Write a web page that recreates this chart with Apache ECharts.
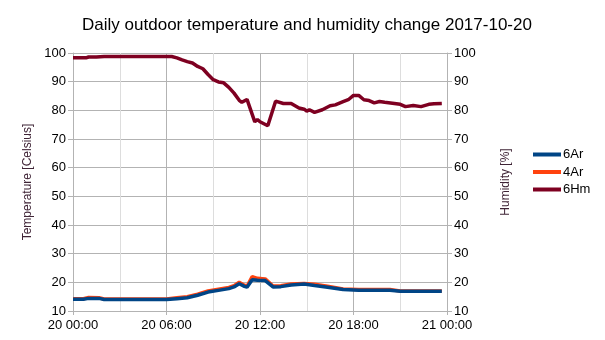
<!DOCTYPE html>
<html>
<head>
<meta charset="utf-8">
<script src="https://cdn.jsdelivr.net/npm/echarts@6/dist/echarts.min.js"></script>
<style>
  html, body { margin: 0; padding: 0; background: #fff; }
  #chart { width: 605px; height: 340px; }
</style>
</head>
<body>
<div id="chart"></div>
<script>
// Readings of 2017-10-20, times as HH:MM (24:00 = next midnight)
const hmTimes = ['00:00','00:30','00:50','01:00','01:30','02:00','03:00','04:00','05:00','06:00','06:20',
  '06:40','07:00','07:20','07:40','08:00','08:20','08:40','09:00','09:20','09:40','10:00','10:20','10:40',
  '10:50','11:10','11:40','11:50','12:00','12:30','13:00','13:30','14:00','14:30','14:50','15:00','15:10',
  '15:30','16:00','16:30','16:50','17:20','17:40','18:00','18:20','18:40','19:00','19:20','19:40','20:00',
  '20:30','21:00','21:20','21:50','22:20','22:50','23:10','23:40'];
const hm6 = [98.3,98.3,98.3,98.6,98.6,98.8,98.8,98.8,98.8,98.8,98.8,
  98.3,97.6,97.0,96.5,95.3,94.5,92.5,90.7,89.9,89.6,88.0,86.0,83.5,
  82.8,83.8,76.0,76.8,76.0,74.6,83.2,82.4,82.4,80.8,80.4,79.7,80.2,
  79.3,80.2,81.6,81.9,83.0,83.7,85.2,85.2,83.7,83.4,82.6,83.1,82.8,
  82.5,82.1,81.3,81.7,81.3,82.1,82.3,82.4];

const tTimes = ['00:00','00:40','01:00','01:40','02:00','03:00','04:00','05:00','06:00','06:40','07:20',
  '08:00','08:40','09:20','10:00','10:20','10:40','11:00','11:10','11:30','11:50','12:20','12:50','13:20',
  '14:00','14:50','15:30','16:20','17:20','18:20','19:20','20:20','21:00','22:00','23:00','23:40'];
const ar6 = [14.1,14.1,14.4,14.4,14.0,14.0,14.0,14.0,14.0,14.3,14.6,
  15.5,16.6,17.2,17.8,18.4,19.5,18.6,18.3,20.9,20.7,20.6,18.4,18.5,
  19.1,19.4,18.9,18.3,17.5,17.2,17.2,17.2,16.9,16.9,16.9,16.9];
const ar4 = [14.3,14.3,14.7,14.6,14.2,14.2,14.2,14.2,14.2,14.6,15.0,
  15.9,17.0,17.6,18.2,18.8,20.0,19.0,18.6,22.0,21.4,21.2,18.7,18.8,
  19.4,19.6,19.3,18.6,17.7,17.5,17.5,17.5,17.0,17.0,17.0,17.0];

const xTickLabels = ['20 00:00','20 06:00','20 12:00','20 18:00','21 00:00'];

function toHours(t) {
  const [h, m] = t.split(':').map(Number);
  return h + m / 60;
}
function pairs(times, vals) {
  return times.map((t, i) => [toHours(t), vals[i]]);
}

const font = 'Liberation Sans, Arial, sans-serif';
const chart = echarts.init(document.getElementById('chart'), null, { renderer: 'canvas' });

const yAxisCommon = {
  type: 'value', min: 10, max: 100, interval: 10,
  axisLine: { show: true, lineStyle: { color: '#b3b3b3', width: 1 } },
  axisTick: { show: true, length: 5, lineStyle: { color: '#b3b3b3' } },
  axisLabel: { color: '#000', fontSize: 13, fontFamily: font, margin: 7 },
  nameLocation: 'middle',
  nameTextStyle: { color: '#3f2436', fontSize: 12, fontFamily: font }
};

chart.setOption({
  animation: false,
  backgroundColor: '#fff',
  title: {
    text: 'Daily outdoor temperature and humidity change 2017-10-20',
    left: 302, top: 12, textAlign: 'center',
    textStyle: { color: '#000', fontSize: 17, fontWeight: 'normal', fontFamily: font }
  },
  grid: { left: 73, right: 158, top: 53, bottom: 29 },
  legend: {
    orient: 'vertical', left: 528, top: 143,
    itemWidth: 28, itemHeight: 4, itemGap: 4.5, icon: 'rect',
    textStyle: { color: '#000', fontSize: 13, fontFamily: font, padding: [0, 0, 0, -3] },
    data: ['6Ar', '4Ar', '6Hm']
  },
  xAxis: {
    type: 'value', min: 0, max: 24, interval: 6,
    axisLine: { show: true, onZero: false, lineStyle: { color: '#b3b3b3' } },
    axisTick: { show: true, length: 4, lineStyle: { color: '#b3b3b3' } },
    axisLabel: {
      color: '#000', fontSize: 13, fontFamily: font, margin: 8,
      formatter: v => xTickLabels[Math.round(v / 6)]
    },
    splitLine: { show: true, lineStyle: { color: '#b3b3b3', width: 1 } },
    minorTick: { show: false, splitNumber: 2 },
    minorSplitLine: { show: true, lineStyle: { color: '#dddddd', width: 1 } }
  },
  yAxis: [
    Object.assign({}, yAxisCommon, {
      position: 'left', name: 'Temperature [Celsius]', nameGap: 38,
      splitLine: { show: true, lineStyle: { color: '#b3b3b3', width: 1 } }
    }),
    Object.assign({}, yAxisCommon, {
      position: 'right', name: 'Humidity [%]', nameGap: 53,
      splitLine: { show: false }
    })
  ],
  series: [
    {
      name: '6Ar', type: 'line', yAxisIndex: 0, z: 4,
      data: pairs(tTimes, ar6), showSymbol: false,
      lineStyle: { width: 3.5, color: '#004586' }, itemStyle: { color: '#004586' }
    },
    {
      name: '4Ar', type: 'line', yAxisIndex: 0, z: 3,
      data: pairs(tTimes, ar4), showSymbol: false,
      lineStyle: { width: 3.5, color: '#ff420e' }, itemStyle: { color: '#ff420e' }
    },
    {
      name: '6Hm', type: 'line', yAxisIndex: 1, z: 3,
      data: pairs(hmTimes, hm6), showSymbol: false,
      lineStyle: { width: 3.5, color: '#7e0021' }, itemStyle: { color: '#7e0021' }
    }
  ]
});
</script>
</body>
</html>
